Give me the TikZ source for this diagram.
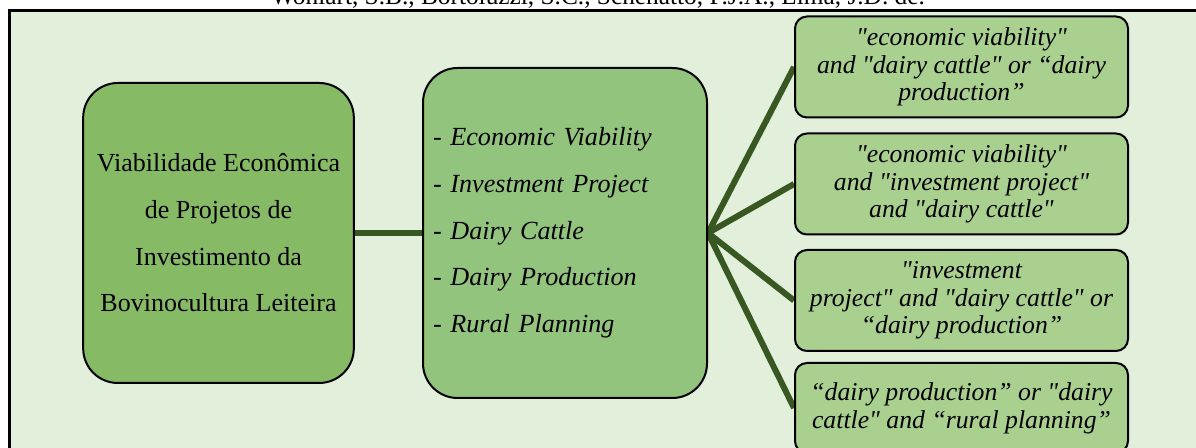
\documentclass[tikz,border=0pt]{standalone}
\usepackage{fontspec}
\setmainfont{Liberation Serif}[Ligatures=TeXOff]
\usetikzlibrary{positioning}
\definecolor{bgc}{RGB}{226,239,218}
\definecolor{topicc}{RGB}{134,186,101}
\definecolor{keyc}{RGB}{147,196,125}
\definecolor{queryc}{RGB}{169,208,142}
\definecolor{linkc}{RGB}{56,87,35}
\pgfdeclarelayer{bg}
\pgfsetlayers{bg,main}

\begin{document}
\begin{tikzpicture}[x=0.75pt, y=-0.75pt, draw=black, line width=1.5pt]
		\tikzstyle{box}=[draw=black, line width=1.5pt, inner sep=0pt, text=black]
		\tikzstyle{topic box}=[box, fill=topicc, rounded corners=26pt,
			minimum width=203pt, minimum height=225pt, align=center,
			font=\fontsize{19.5}{35}\selectfont]
		\tikzstyle{key box}=[box, fill=keyc, rounded corners=26pt,
			minimum width=213pt, minimum height=247.5pt, text width=198pt,
			align=left, font=\fontsize{19.6}{35}\selectfont\itshape]
		\tikzstyle{query box}=[box, fill=queryc, rounded corners=9pt,
			minimum width=249.75pt, minimum height=75.75pt, align=center,
			font=\fontsize{19.3}{20.8}\selectfont\itshape]
		\tikzstyle{link}=[draw=linkc, line width=4.5pt]

		\useasboundingbox (0,0) rectangle (1196,448);

		\node[anchor=base, font=\fontsize{19}{23}\selectfont](author) at (598,5)
			{Wohlart, S.B., Bortoluzzi, S.C., Schenatto, F.J.A., Lima, J.D. de.};

		\node[topic box](T) at (218.5,233) {Viabilidade Econômica\\de Projetos de\\Investimento da\\Bovinocultura Leiteira};

		\node[key box](K) at (565,233) {- Economic Viability\\- Investment Project\\- Dairy Cattle\\- Dairy Production\\- Rural Planning};

		\node[query box](Q1) at (961.5,67) {"economic viability"\\and "dairy cattle" or “dairy\\production”};
		\node[query box](Q2) at (961.5,184) {"economic viability"\\and "investment project"\\and "dairy cattle"};
		\node[query box](Q3) at (961.5,300.5) {"investment\\project" and "dairy cattle" or\\“dairy production”};
		\node[query box, minimum height=67.5pt](Q4) at (961.5,408) {“dairy production” or "dairy\\cattle" and “rural planning”};

		\begin{pgfonlayer}{bg}
			% Frame
			\draw[fill=bgc, line width=2.25pt] (9,11) rectangle (1212,470);

			% Connections
			\path (T.east) edge [link] (K.west);
			\path (K.east) edge [link] (Q1.west);
			\path (K.east) edge [link] (Q2.west);
			\path (K.east) edge [link] (Q3.west);
			\path (K.east) edge [link] (Q4.west);
		\end{pgfonlayer}

\end{tikzpicture}
\end{document}
